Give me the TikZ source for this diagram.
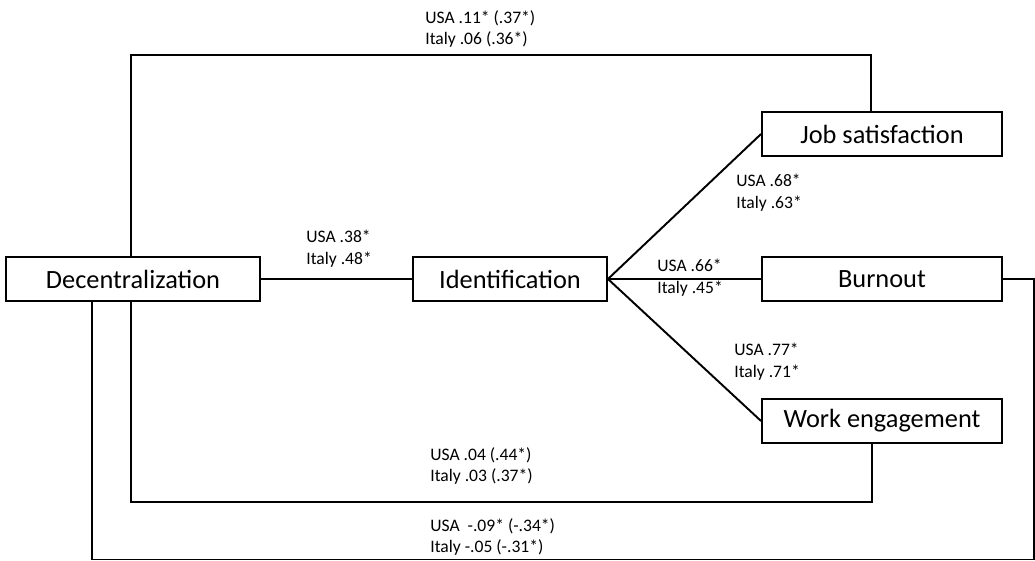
\documentclass[tikz,border=0pt]{standalone}
\usepackage{fontspec}
\setmainfont{Carlito}
\usetikzlibrary{positioning}

\tikzset{
  varbox/.style={draw, line width=1.1pt, minimum width=0.02cm*#1, minimum height=0.88cm, inner sep=0pt,
    font=\fontsize{15}{18}\selectfont},
  varbox/.default=240,
  coef/.style={anchor=west, align=left, inner sep=0pt, font=\fontsize{10}{12.5}\selectfont},
  path/.style={line width=1.1pt}
}

\begin{document}
\begin{tikzpicture}[x=0.02cm, y=-0.02cm]
  \useasboundingbox (0,0) rectangle (1035,561);
  % boxes
  \node[varbox=254] (dec) at (133,279) {Decentralization};
  \node[varbox=194] (ident) at (510,279) {Identification};
  \node[varbox] (jobsat) at (882,134) {Job satisfaction};
  \node[varbox] (burnout) at (882,279) {Burnout};
  \node[varbox] (workeng) at (882,421) {Work engagement};
  % corners of the direct paths
  \coordinate (topleft) at (131,55);
  \coordinate (topright) at (871,55);
  \coordinate (botleft) at (131,502);
  \coordinate (botright) at (872,502);
  \coordinate (lowleft) at (92,559.5);
  \coordinate (lowright) at (1034,559.5);
  % connectors
  \draw[path] (dec) -- (ident);
  \draw[path] (ident.east) -- (jobsat.west);
  \draw[path] (ident.east) -- (burnout.west);
  \draw[path] (ident.east) -- (workeng.west);
  \draw[path] (topleft |- dec.north) -- (topleft) -- (topright) -- (topright |- jobsat.north);
  \draw[path] (botleft |- dec.south) -- (botleft) -- (botright) -- (botright |- workeng.south);
  \draw[path] (lowleft |- dec.south) -- (lowleft) -- (lowright) -- (lowright |- burnout.east) -- (burnout.east);
  % coefficients
  \node[coef] (ctop) at (425,29) {USA .11* (.37*)\\Italy .06 (.36*)};
  \node[coef] (cdi) at (306,249) {USA .38*\\Italy .48*};
  \node[coef] (cjs) at (736,193) {USA .68*\\Italy .63*};
  \node[coef] (cbo) at (657,278) {USA .66*\\Italy .45*};
  \node[coef] (cwe) at (734,362) {USA .77*\\Italy .71*};
  \node[coef] (cbot) at (430,466) {USA .04 (.44*)\\Italy .03 (.37*)};
  \node[coef] (clow) at (430,537) {USA \ -.09* (-.34*)\\Italy -.05 (-.31*)};
\end{tikzpicture}
\end{document}
